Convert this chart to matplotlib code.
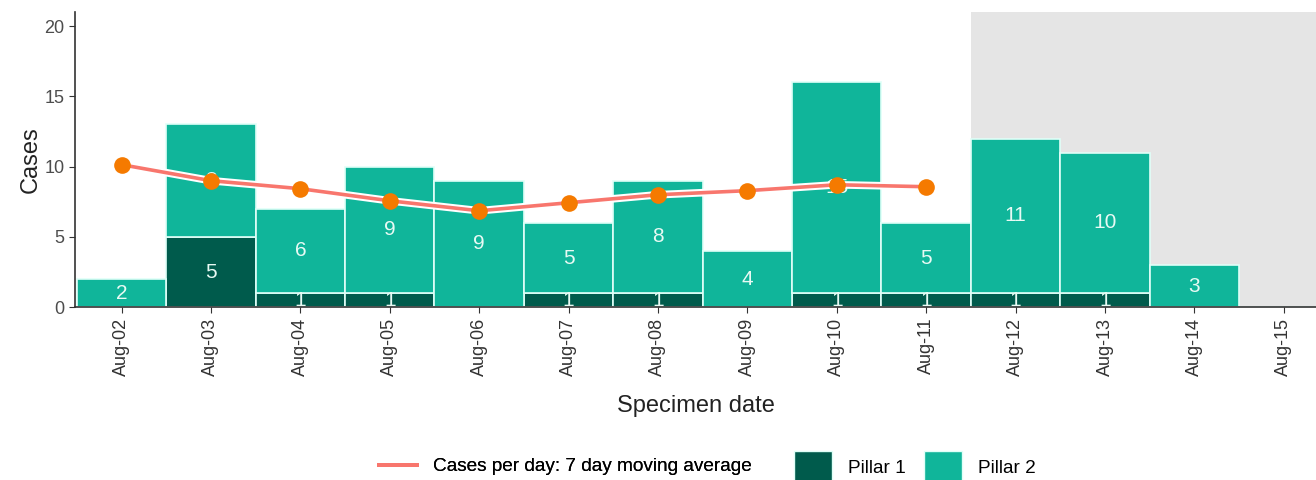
import numpy as np
import matplotlib
matplotlib.use('Agg')
import matplotlib.pyplot as plt
import matplotlib.patheffects as pe
from matplotlib.lines import Line2D
from matplotlib.patches import Patch

plt.rcParams['font.family'] = ['Liberation Sans', 'DejaVu Sans']

# data
dates = ['Aug-02', 'Aug-03', 'Aug-04', 'Aug-05', 'Aug-06', 'Aug-07', 'Aug-08',
         'Aug-09', 'Aug-10', 'Aug-11', 'Aug-12', 'Aug-13', 'Aug-14', 'Aug-15']
pillar1 = [0, 5, 1, 1, 0, 1, 1, 0, 1, 1, 1, 1, 0, 0]
pillar2 = [2, 8, 6, 9, 9, 5, 8, 4, 15, 5, 11, 10, 3, 0]
moving_avg = [10.14, 9.0, 8.43, 7.57, 6.86, 7.43, 8.0, 8.29, 8.71, 8.57]
incomplete_from = 9.5  # shaded region starts between Aug-11 and Aug-12

c_p1 = '#005B4C'
c_p2 = '#10B59A'
c_line = '#F8766D'
c_dot = '#F57A00'
c_lab = '#E8FAF4'
c_edge = '#E0FFF8'

x = np.arange(len(dates))
p1 = np.array(pillar1)
p2 = np.array(pillar2)

fig = plt.figure(figsize=(13.16, 4.8), dpi=100)
ax = fig.add_axes([0.057, 0.36, 0.943, 0.615])

ax.axvspan(incomplete_from, 13.5, color='#E5E5E5', zorder=0, lw=0)

bars1 = ax.bar(x, p1, width=1.0, color=c_p1, edgecolor=c_edge, linewidth=1.2, zorder=0.4)
bars2 = ax.bar(x, p2, width=1.0, bottom=p1, color=c_p2, edgecolor=c_edge, linewidth=1.2, zorder=1)

# value labels, clipped to their own segment
for i in range(len(dates)):
    if p1[i] > 0:
        t = ax.text(x[i], p1[i] / 2, str(p1[i]), ha='center', va='center', color=c_lab,
                    fontsize=15, zorder=2)
        t.set_clip_path(bars1[i])
    if p2[i] > 0:
        t = ax.text(x[i], p1[i] + p2[i] / 2, str(p2[i]), ha='center', va='center', color=c_lab,
                    fontsize=15, zorder=2)
        t.set_clip_path(bars2[i])

xm = x[:len(moving_avg)]
ax.plot(xm, moving_avg, color=c_line, lw=2.6, zorder=3,
        path_effects=[pe.Stroke(linewidth=5.5, foreground='white'), pe.Normal()])
ax.plot(xm, moving_avg, 'o', color=c_dot, ms=12, zorder=4, mec='none')

ax.set_xlim(-0.52, 13.36)
ax.set_ylim(0, 21)
ax.set_yticks([0, 5, 10, 15, 20])
ax.set_xticks(x)
ax.set_xticklabels(dates, rotation=90, fontsize=13, color='#333333')
ax.tick_params(axis='y', labelsize=13, labelcolor='#4D4D4D', length=4, color='#333333')
ax.tick_params(axis='x', length=4, color='#333333')
for s in ['top', 'right']:
    ax.spines[s].set_visible(False)
for s in ['left', 'bottom']:
    ax.spines[s].set_color('#333333')
    ax.spines[s].set_linewidth(1.2)

ax.set_ylabel('Cases', fontsize=17, color='#222222', labelpad=2)
ax.set_xlabel('Specimen date', fontsize=17, color='#222222', labelpad=14)

# two legends side by side, like the separate colour and fill guides
leg_line = fig.legend([Line2D([0], [0], color=c_line, lw=2.8)],
                      ['Cases per day: 7 day moving average'],
                      loc='center left', bbox_to_anchor=(0.288, 0.028), frameon=False,
                      fontsize=13.7, handlelength=2.0, handletextpad=0.85, borderpad=0,
                      borderaxespad=0)
fig.legend([Patch(facecolor=c_p1, edgecolor=c_edge), Patch(facecolor=c_p2, edgecolor=c_edge)],
           ['Pillar 1', 'Pillar 2'],
           loc='center left', bbox_to_anchor=(0.603, 0.028), ncol=2, frameon=False,
           fontsize=13.7, handlelength=2.0, handleheight=2.2, handletextpad=0.85,
           columnspacing=0.95, borderpad=0, borderaxespad=0)
fig.add_artist(leg_line)

fig.savefig('out.png', dpi=100)
